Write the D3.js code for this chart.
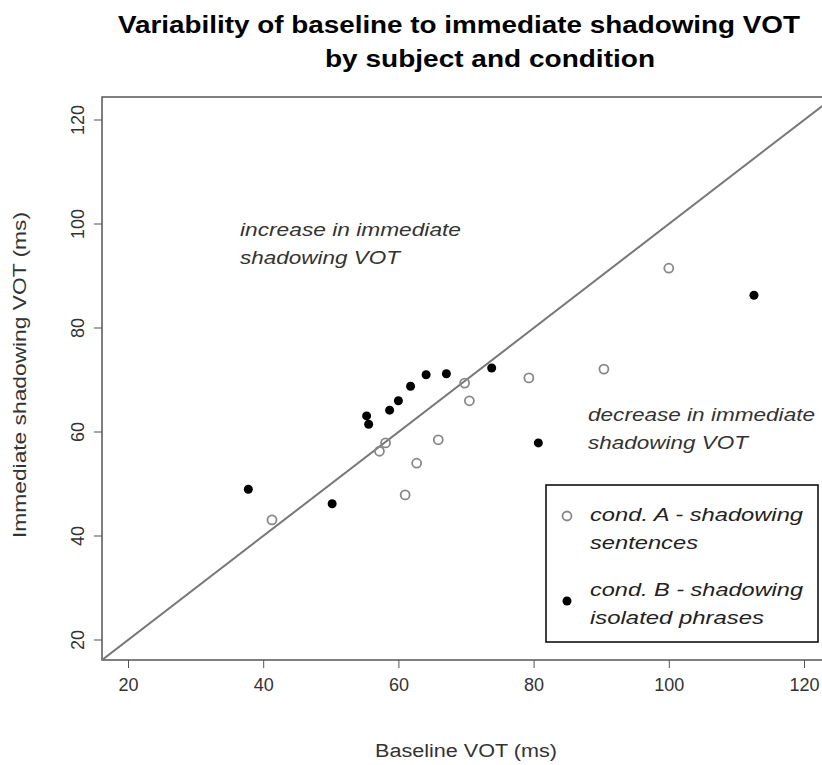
<!DOCTYPE html>
<html><head><meta charset="utf-8">
<script src="https://cdn.jsdelivr.net/npm/d3@7"></script>
<style>body{margin:0;background:#fff}svg{font-family:"Liberation Sans",Arial,sans-serif}</style>
</head><body><svg id="c" width="822" height="765"></svg>
<script>
const condA_x=[41.3,57.2,58.1,61.0,62.7,65.9,69.8,70.5,79.3,90.4,100.0];
const condA_y=[43.1,56.3,57.9,47.9,54.0,58.5,69.4,66.0,70.4,72.1,91.5];
const condB_x=[37.8,50.2,55.3,55.6,58.7,60.0,61.8,64.1,67.1,73.8,80.7,112.6];
const condB_y=[49.0,46.2,63.1,61.5,64.2,66.0,68.8,71.0,71.2,72.3,57.9,86.3];
const ticks=[20,40,60,80,100,120];
const svg=d3.select("#c");
const x=d3.scaleLinear().domain([20,120]).range([128,804]);
const y=d3.scaleLinear().domain([20,120]).range([640,120]);
const L=102,R=830,T=97,B=660;
svg.append("rect").attr("x",L).attr("y",T).attr("width",R-L).attr("height",B-T).attr("fill","none").attr("stroke","#555").attr("stroke-width",1.5);
const xa=svg.append("g").attr("transform",`translate(0,${B})`).call(d3.axisBottom(x).tickValues(ticks).tickSize(8).tickPadding(10));
const ya=svg.append("g").attr("transform",`translate(${L},0)`).call(d3.axisLeft(y).tickValues(ticks).tickSize(8).tickPadding(8));
[xa,ya].forEach(a=>{a.select(".domain").remove();a.selectAll("line").attr("stroke","#555");a.selectAll("text").attr("font-size",18).attr("fill","#333").attr("font-family","Liberation Sans, Arial, sans-serif");});
ya.selectAll(".tick").attr("transform",null).each(function(d){const g=d3.select(this);g.select("line").attr("y1",y(d)).attr("y2",y(d));g.select("text").attr("transform","rotate(-90)").attr("x",-y(d)).attr("y",-18).attr("dy",0).attr("text-anchor","middle");});
const lo=x.invert(L);
svg.append("clipPath").attr("id","cl").append("rect").attr("x",L).attr("y",T).attr("width",R-L).attr("height",B-T);
svg.append("line").attr("clip-path","url(#cl)").attr("x1",x(lo)).attr("y1",y(lo)).attr("x2",x(130)).attr("y2",y(130)).attr("stroke","#777").attr("stroke-width",2);
svg.selectAll(".a").data(condA_x).enter().append("circle").attr("cx",d=>x(d)).attr("cy",(d,i)=>y(condA_y[i])).attr("r",4.5).attr("fill","none").attr("stroke","#888").attr("stroke-width",1.8);
svg.selectAll(".b").data(condB_x).enter().append("circle").attr("cx",d=>x(d)).attr("cy",(d,i)=>y(condB_y[i])).attr("r",4.5).attr("fill","#000");
const t=(s,X,Y,w,o)=>svg.append("text").attr("x",X).attr("y",Y).text(s).attr("font-size",o.fs||19).attr("fill",o.f||"#333").attr("font-style",o.it?"italic":null).attr("font-weight",o.b?"bold":null).attr("text-anchor",o.a||"start").attr("textLength",w).attr("lengthAdjust","spacingAndGlyphs");
t("Variability of baseline to immediate shadowing VOT",459,33,682,{fs:23,b:1,a:"middle",f:"#000"});
t("by subject and condition",490,67,330,{fs:23,b:1,a:"middle",f:"#000"});
t("Baseline VOT (ms)",466,757,182,{fs:18,a:"middle"});
svg.append("text").attr("transform","translate(26,375) rotate(-90)").attr("text-anchor","middle").attr("font-size",18).attr("fill","#333").attr("textLength",326).attr("lengthAdjust","spacingAndGlyphs").text("Immediate shadowing VOT (ms)");
t("increase in immediate",240,236,221,{it:1});
t("shadowing VOT",240,264,160,{it:1});
t("decrease in immediate",588,421,227,{it:1});
t("shadowing VOT",588,449,160,{it:1});
svg.append("rect").attr("x",546).attr("y",485).attr("width",272).attr("height",157).attr("fill","#fff").attr("stroke","#000").attr("stroke-width",1.5);
svg.append("circle").attr("cx",567).attr("cy",516).attr("r",4.5).attr("fill","none").attr("stroke","#888").attr("stroke-width",1.8);
svg.append("circle").attr("cx",567).attr("cy",601).attr("r",4.5).attr("fill","#000");
t("cond. A - shadowing",590,521,213,{it:1,f:"#222"});
t("sentences",590,549,108,{it:1,f:"#222"});
t("cond. B - shadowing",590,596,213,{it:1,f:"#222"});
t("isolated phrases",590,624,174,{it:1,f:"#222"});
</script></body></html>
